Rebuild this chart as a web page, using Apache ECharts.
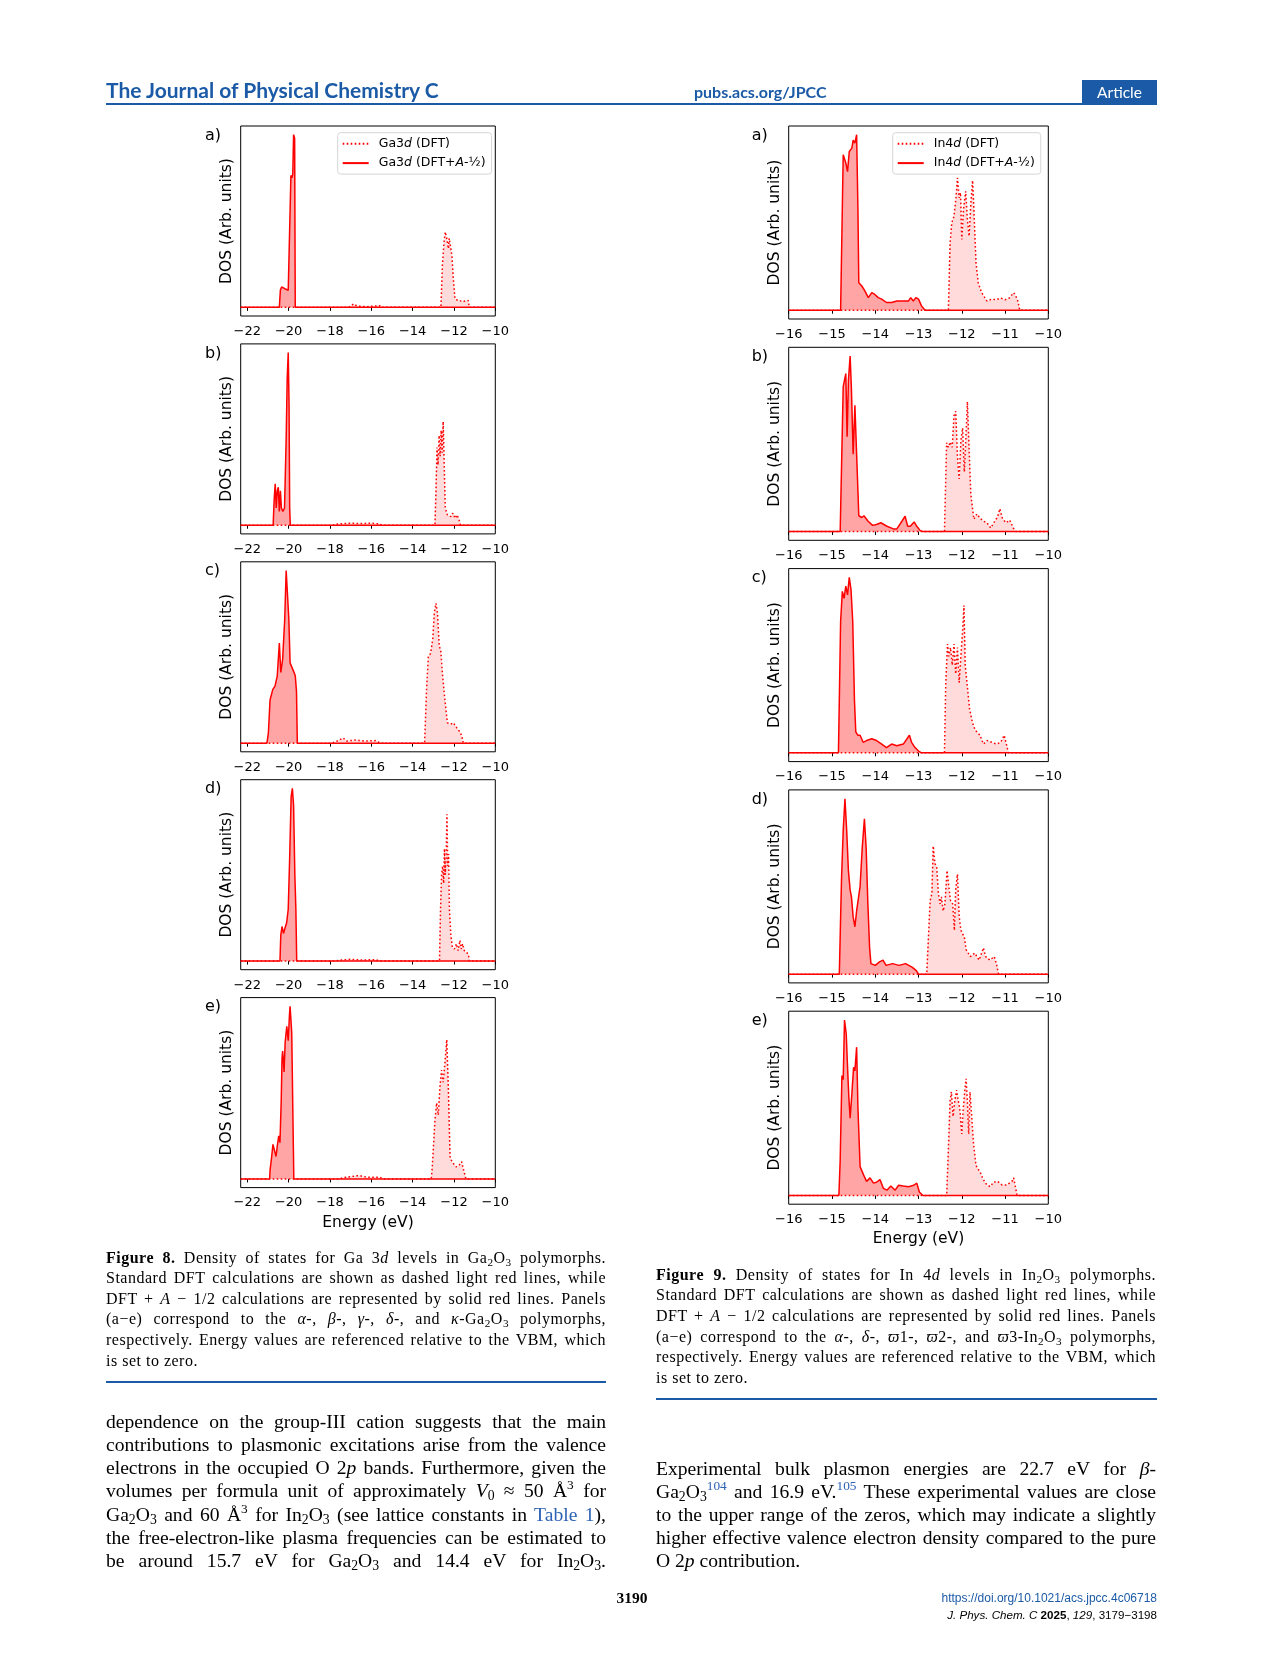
<!DOCTYPE html>
<html><head><meta charset="utf-8">
<script src="https://cdn.jsdelivr.net/npm/echarts@6/dist/echarts.min.js"></script>
<style>
html,body{margin:0;padding:0;background:#fff;}
#page{position:relative;width:1266px;height:1669px;overflow:hidden;background:#fff;}
#chart{position:absolute;left:0;top:0;width:1266px;height:1669px;}
.t{position:absolute;white-space:nowrap;color:#000;}
.cap{font-family:"Liberation Serif",serif;font-size:16px;line-height:20px;height:20px;width:500px;letter-spacing:0.5px;}
.body{font-family:"Liberation Serif",serif;font-size:19.6px;line-height:22px;height:22px;width:500px;}
.j{text-align:justify;text-align-last:justify;}
.sb{font-size:70%;vertical-align:-0.25em;line-height:0;}
.sp{font-size:68%;vertical-align:0.6em;line-height:0;}
.blue{color:#2d62b5;}
.rule{position:absolute;height:2px;background:#1a5aa6;}
</style></head>
<body><div id="page">
<div id="chart"></div>

<div class="t" style="left:106px;top:77px;font-family:Lato,sans-serif;font-weight:bold;font-size:21px;line-height:26px;color:#1a5aa6;">The Journal of Physical Chemistry C</div>
<div class="t" style="left:694px;top:82px;font-family:Lato,sans-serif;font-weight:bold;font-size:16px;line-height:20px;color:#1a5aa6;">pubs.acs.org/JPCC</div>
<div class="t" style="left:1082px;top:80px;width:75px;height:24px;background:#1a5aa6;color:#fff;font-family:Lato,sans-serif;font-size:15.5px;line-height:24px;text-align:center;">Article</div>
<div class="rule" style="left:106px;top:103px;width:1051px;"></div>

<div class="t cap j" style="left:106px;top:1247.5px;"><b>Figure 8.</b> Density of states for Ga 3<i>d</i> levels in Ga<span class="sb">2</span>O<span class="sb">3</span> polymorphs.</div>
<div class="t cap j" style="left:106px;top:1268.1px;">Standard DFT calculations are shown as dashed light red lines, while</div>
<div class="t cap j" style="left:106px;top:1288.7px;">DFT + <i>A</i> − 1/2 calculations are represented by solid red lines. Panels</div>
<div class="t cap j" style="left:106px;top:1309.3px;">(a−e) correspond to the <i>α</i>-, <i>β</i>-, <i>γ</i>-, <i>δ</i>-, and <i>κ</i>-Ga<span class="sb">2</span>O<span class="sb">3</span> polymorphs,</div>
<div class="t cap j" style="left:106px;top:1329.9px;">respectively. Energy values are referenced relative to the VBM, which</div>
<div class="t cap" style="left:106px;top:1350.5px;">is set to zero.</div>
<div class="rule" style="left:106px;top:1381px;width:500px;"></div>

<div class="t cap j" style="left:656px;top:1264.5px;"><b>Figure 9.</b> Density of states for In 4<i>d</i> levels in In<span class="sb">2</span>O<span class="sb">3</span> polymorphs.</div>
<div class="t cap j" style="left:656px;top:1285.2px;">Standard DFT calculations are shown as dashed light red lines, while</div>
<div class="t cap j" style="left:656px;top:1305.9px;">DFT + <i>A</i> − 1/2 calculations are represented by solid red lines. Panels</div>
<div class="t cap j" style="left:656px;top:1326.6px;">(a−e) correspond to the <i>α</i>-, <i>δ</i>-, <i>ϖ</i>1-, <i>ϖ</i>2-, and <i>ϖ</i>3-In<span class="sb">2</span>O<span class="sb">3</span> polymorphs,</div>
<div class="t cap j" style="left:656px;top:1347.3px;">respectively. Energy values are referenced relative to the VBM, which</div>
<div class="t cap" style="left:656px;top:1368px;">is set to zero.</div>
<div class="rule" style="left:656px;top:1398px;width:501px;"></div>

<div class="t body j" style="left:106px;top:1411.3px;">dependence on the group-III cation suggests that the main</div>
<div class="t body j" style="left:106px;top:1434.3px;">contributions to plasmonic excitations arise from the valence</div>
<div class="t body j" style="left:106px;top:1457.4px;">electrons in the occupied O 2<i>p</i> bands. Furthermore, given the</div>
<div class="t body j" style="left:106px;top:1480.4px;">volumes per formula unit of approximately <i>V</i><span class="sb">0</span> ≈ 50 Å<span class="sp">3</span> for</div>
<div class="t body j" style="left:106px;top:1503.5px;">Ga<span class="sb">2</span>O<span class="sb">3</span> and 60 Å<span class="sp">3</span> for In<span class="sb">2</span>O<span class="sb">3</span> (see lattice constants in <span class="blue">Table 1</span>),</div>
<div class="t body j" style="left:106px;top:1526.5px;">the free-electron-like plasma frequencies can be estimated to</div>
<div class="t body j" style="left:106px;top:1549.6px;">be around 15.7 eV for Ga<span class="sb">2</span>O<span class="sb">3</span> and 14.4 eV for In<span class="sb">2</span>O<span class="sb">3</span>.</div>

<div class="t body j" style="left:656px;top:1458.1px;">Experimental bulk plasmon energies are 22.7 eV for <i>β</i>-</div>
<div class="t body j" style="left:656px;top:1481.2px;">Ga<span class="sb">2</span>O<span class="sb">3</span><span class="sp blue">104</span> and 16.9 eV.<span class="sp blue">105</span> These experimental values are close</div>
<div class="t body j" style="left:656px;top:1504.2px;">to the upper range of the zeros, which may indicate a slightly</div>
<div class="t body j" style="left:656px;top:1527.3px;">higher effective valence electron density compared to the pure</div>
<div class="t body" style="left:656px;top:1550.3px;">O 2<i>p</i> contribution.</div>

<div class="t" style="left:597px;top:1588px;width:70px;text-align:center;font-family:'Liberation Serif',serif;font-weight:bold;font-size:15.5px;line-height:20px;">3190</div>
<div class="t" style="left:807px;top:1591px;width:350px;text-align:right;font-family:'Liberation Sans',sans-serif;font-size:12px;line-height:15px;color:#1a5aa6;">https://doi.org/10.1021/acs.jpcc.4c06718</div>
<div class="t" style="left:807px;top:1606.5px;width:350px;text-align:right;font-family:'Liberation Sans',sans-serif;font-size:11.6px;line-height:15px;"><i>J. Phys. Chem. C</i> <b>2025</b>, <i>129</i>, 3179−3198</div>
</div>

<script>
// ---------- tick labels ----------
const gaTicks = [-22, -20, -18, -16, -14, -12, -10];
const inTicks = [-16, -15, -14, -13, -12, -11, -10];
const panelLetters = ['a)', 'b)', 'c)', 'd)', 'e)'];

// ---------- Ga 3d (Figure 8) : [energy eV, DOS normalised] ----------
const ga_a_dft = [[-22.32,0],[-17.1,0],[-16.85,0.02],[-16.7,0.008],[-16.2,0.004],[-15.6,0.01],[-15.5,0],[-12.63,0],[-12.56,0.243],[-12.48,0.38],[-12.42,0.437],[-12.35,0.40],[-12.27,0.34],[-12.23,0.40],[-12.16,0.395],[-12.1,0.30],[-12.03,0.166],[-11.95,0.05],[-11.87,0.04],[-11.74,0.035],[-11.63,0.04],[-11.47,0.035],[-11.31,0.04],[-11.26,0],[-10,0]];
const ga_a_plus = [[-22.32,0],[-20.45,0],[-20.4,0.1],[-20.34,0.118],[-20.26,0.11],[-20.18,0.108],[-20.1,0.1],[-20.02,0.099],[-19.95,0.11],[-19.89,0.764],[-19.84,0.75],[-19.8,0.77],[-19.76,1.0],[-19.71,0.98],[-19.68,0],[-10,0]];

const ga_b_dft = [[-22.32,0],[-17.9,0],[-17.6,0.008],[-17.0,0.012],[-16.5,0.01],[-16.0,0.012],[-15.6,0.008],[-15.5,0],[-12.92,0],[-12.87,0.2],[-12.82,0.45],[-12.77,0.35],[-12.72,0.52],[-12.67,0.4],[-12.62,0.55],[-12.57,0.42],[-12.52,0.6],[-12.47,0.35],[-12.42,0.1],[-12.32,0.06],[-12.15,0.05],[-12.05,0.07],[-11.95,0.04],[-11.85,0.06],[-11.75,0.03],[-11.68,0],[-10,0]];
const ga_b_plus = [[-22.32,0],[-20.75,0],[-20.7,0.15],[-20.65,0.24],[-20.6,0.1],[-20.55,0.2],[-20.5,0.22],[-20.45,0.08],[-20.4,0.2],[-20.35,0.1],[-20.28,0.08],[-20.2,0.1],[-20.12,0.5],[-20.07,0.85],[-20.02,1.0],[-19.98,0.7],[-19.95,0.1],[-19.92,0],[-10,0]];

const ga_c_dft = [[-22.32,0],[-17.9,0],[-17.6,0.015],[-17.36,0.03],[-17.2,0.012],[-16.8,0.018],[-16.3,0.012],[-15.8,0.015],[-15.55,0],[-13.42,0],[-13.32,0.33],[-13.24,0.5],[-13.13,0.52],[-13.03,0.6],[-12.95,0.755],[-12.87,0.81],[-12.8,0.755],[-12.71,0.56],[-12.64,0.54],[-12.55,0.39],[-12.44,0.253],[-12.32,0.118],[-12.16,0.11],[-12.03,0.118],[-11.87,0.09],[-11.68,0.06],[-11.6,0.03],[-11.55,0],[-10,0]];
const ga_c_plus = [[-22.32,0],[-21.05,0],[-20.98,0.06],[-20.9,0.25],[-20.77,0.31],[-20.66,0.33],[-20.55,0.39],[-20.45,0.58],[-20.38,0.41],[-20.29,0.485],[-20.19,0.716],[-20.12,1.0],[-20.06,1.0],[-19.99,0.716],[-19.93,0.465],[-19.84,0.465],[-19.74,0.41],[-19.68,0.39],[-19.62,0.3],[-19.58,0],[-10,0]];

const ga_d_dft = [[-22.32,0],[-17.8,0],[-17.5,0.006],[-17.0,0.01],[-16.5,0.006],[-15.8,0.008],[-15.6,0],[-12.7,0],[-12.65,0.3],[-12.6,0.5],[-12.55,0.55],[-12.5,0.45],[-12.46,0.65],[-12.42,0.5],[-12.38,0.6],[-12.34,0.85],[-12.3,0.55],[-12.26,0.62],[-12.22,0.3],[-12.15,0.15],[-12.08,0.08],[-11.98,0.07],[-11.88,0.1],[-11.8,0.06],[-11.71,0.12],[-11.65,0.07],[-11.58,0.1],[-11.5,0.06],[-11.4,0.05],[-11.3,0.04],[-11.26,0],[-10,0]];
const ga_d_plus = [[-22.32,0],[-20.42,0],[-20.38,0.15],[-20.32,0.2],[-20.25,0.16],[-20.18,0.19],[-20.1,0.22],[-20.02,0.3],[-19.95,0.6],[-19.88,0.95],[-19.82,1.0],[-19.76,0.9],[-19.7,0.5],[-19.65,0.3],[-19.61,0],[-10,0]];

const ga_e_dft = [[-22.32,0],[-17.6,0],[-17.3,0.008],[-16.9,0.015],[-16.6,0.02],[-16.2,0.01],[-15.6,0.01],[-15.4,0],[-13.1,0],[-13.05,0.07],[-12.92,0.34],[-12.84,0.44],[-12.76,0.37],[-12.68,0.535],[-12.6,0.63],[-12.52,0.56],[-12.44,0.67],[-12.35,0.806],[-12.27,0.52],[-12.19,0.13],[-12.1,0.1],[-12.03,0.09],[-11.9,0.07],[-11.75,0.08],[-11.63,0.1],[-11.55,0.06],[-11.47,0.07],[-11.42,0],[-10,0]];
const ga_e_plus = [[-22.32,0],[-20.92,0],[-20.9,0.05],[-20.82,0.13],[-20.76,0.2],[-20.71,0.21],[-20.61,0.13],[-20.55,0.19],[-20.48,0.25],[-20.42,0.21],[-20.36,0.45],[-20.32,0.7],[-20.29,0.74],[-20.22,0.62],[-20.17,0.79],[-20.09,0.883],[-20.02,0.8],[-19.96,0.95],[-19.93,1.0],[-19.85,0.845],[-19.77,0.17],[-19.75,0],[-10,0]];

// ---------- In 4d (Figure 9) ----------
const in_a_dft = [[-16,0],[-12.31,0],[-12.27,0.385],[-12.23,0.498],[-12.18,0.536],[-12.13,0.65],[-12.1,0.754],[-12.06,0.64],[-12.03,0.67],[-12.0,0.403],[-11.96,0.574],[-11.91,0.678],[-11.87,0.517],[-11.83,0.422],[-11.79,0.612],[-11.75,0.74],[-11.72,0.574],[-11.67,0.27],[-11.62,0.157],[-11.54,0.1],[-11.42,0.053],[-11.31,0.063],[-11.2,0.06],[-11.1,0.07],[-11.0,0.06],[-10.9,0.07],[-10.8,0.1],[-10.75,0.08],[-10.7,0.05],[-10.66,0],[-10,0]];
const in_a_plus = [[-16,0],[-14.8,0],[-14.74,0.886],[-14.68,0.839],[-14.64,0.79],[-14.6,0.905],[-14.54,0.924],[-14.51,0.97],[-14.47,0.953],[-14.43,1.0],[-14.4,0.574],[-14.38,0.157],[-14.31,0.138],[-14.24,0.11],[-14.16,0.072],[-14.08,0.1],[-14.01,0.09],[-13.93,0.072],[-13.85,0.063],[-13.74,0.044],[-13.62,0.044],[-13.5,0.053],[-13.35,0.053],[-13.23,0.053],[-13.18,0.072],[-13.12,0.053],[-13.06,0.072],[-13.0,0.063],[-12.93,0.025],[-12.85,0],[-10,0]];

const in_b_dft = [[-16,0],[-12.4,0],[-12.35,0.506],[-12.31,0.48],[-12.27,0.51],[-12.22,0.48],[-12.18,0.66],[-12.14,0.685],[-12.1,0.43],[-12.06,0.30],[-12.02,0.52],[-11.98,0.59],[-11.94,0.34],[-11.91,0.505],[-11.87,0.74],[-11.83,0.47],[-11.79,0.21],[-11.72,0.07],[-11.65,0.10],[-11.59,0.08],[-11.51,0.06],[-11.42,0.05],[-11.33,0.02],[-11.26,0.05],[-11.17,0.085],[-11.12,0.13],[-11.06,0.075],[-10.98,0.05],[-10.89,0.065],[-10.81,0.02],[-10.75,0],[-10,0]];
const in_b_plus = [[-16,0],[-14.81,0],[-14.74,0.826],[-14.68,0.9],[-14.65,0.54],[-14.62,0.86],[-14.58,1.0],[-14.55,0.81],[-14.51,0.44],[-14.47,0.72],[-14.45,0.71],[-14.41,0.3],[-14.38,0.09],[-14.31,0.08],[-14.26,0.09],[-14.22,0.1],[-14.17,0.06],[-14.06,0.035],[-13.97,0.04],[-13.87,0.05],[-13.73,0.03],[-13.58,0.015],[-13.5,0.015],[-13.38,0.06],[-13.31,0.087],[-13.25,0.03],[-13.19,0.03],[-13.1,0.055],[-13.04,0.03],[-12.96,0.005],[-12.9,0],[-10,0]];

const in_c_dft = [[-16,0],[-12.4,0],[-12.37,0.4],[-12.33,0.62],[-12.3,0.55],[-12.26,0.6],[-12.22,0.5],[-12.18,0.62],[-12.14,0.45],[-12.1,0.6],[-12.06,0.4],[-12.02,0.55],[-11.98,0.7],[-11.95,0.84],[-11.92,0.5],[-11.88,0.4],[-11.82,0.25],[-11.75,0.17],[-11.69,0.13],[-11.58,0.1],[-11.5,0.05],[-11.41,0.07],[-11.31,0.06],[-11.2,0.05],[-11.1,0.06],[-11.02,0.1],[-10.97,0.05],[-10.92,0],[-10,0]];
const in_c_plus = [[-16,0],[-14.85,0],[-14.8,0.75],[-14.76,0.92],[-14.72,0.88],[-14.68,0.95],[-14.64,0.9],[-14.6,1.0],[-14.56,0.93],[-14.52,0.75],[-14.48,0.3],[-14.45,0.12],[-14.4,0.1],[-14.35,0.1],[-14.28,0.06],[-14.2,0.07],[-14.08,0.08],[-13.97,0.07],[-13.85,0.05],[-13.74,0.03],[-13.62,0.05],[-13.5,0.04],[-13.35,0.05],[-13.21,0.1],[-13.16,0.06],[-13.08,0.03],[-13.0,0.01],[-12.93,0],[-10,0]];

const in_d_dft = [[-16,0],[-12.81,0],[-12.73,0.42],[-12.69,0.46],[-12.66,0.73],[-12.62,0.63],[-12.58,0.61],[-12.54,0.46],[-12.5,0.40],[-12.47,0.44],[-12.43,0.36],[-12.39,0.40],[-12.34,0.59],[-12.3,0.50],[-12.26,0.42],[-12.21,0.40],[-12.17,0.25],[-12.14,0.48],[-12.1,0.57],[-12.06,0.33],[-12.02,0.25],[-11.98,0.24],[-11.94,0.21],[-11.9,0.14],[-11.8,0.1],[-11.7,0.12],[-11.6,0.08],[-11.5,0.15],[-11.45,0.1],[-11.35,0.08],[-11.25,0.1],[-11.2,0.06],[-11.15,0],[-10,0]];
const in_d_plus = [[-16,0],[-14.83,0],[-14.78,0.535],[-14.74,0.82],[-14.7,1.0],[-14.66,0.82],[-14.62,0.59],[-14.58,0.48],[-14.55,0.44],[-14.51,0.326],[-14.47,0.27],[-14.43,0.36],[-14.35,0.5],[-14.3,0.72],[-14.25,0.885],[-14.21,0.72],[-14.17,0.4],[-14.13,0.15],[-14.1,0.06],[-14.0,0.05],[-13.9,0.07],[-13.82,0.08],[-13.75,0.05],[-13.6,0.06],[-13.45,0.05],[-13.3,0.06],[-13.15,0.04],[-13.05,0.02],[-13.0,0],[-10,0]];

const in_e_dft = [[-16,0],[-12.35,0],[-12.31,0.26],[-12.27,0.54],[-12.24,0.59],[-12.2,0.45],[-12.16,0.54],[-12.12,0.6],[-12.08,0.61],[-12.04,0.48],[-12.0,0.35],[-11.97,0.48],[-11.93,0.6],[-11.9,0.665],[-11.87,0.54],[-11.84,0.35],[-11.81,0.59],[-11.77,0.45],[-11.73,0.30],[-11.67,0.17],[-11.57,0.13],[-11.5,0.09],[-11.42,0.06],[-11.34,0.05],[-11.27,0.075],[-11.17,0.08],[-11.07,0.06],[-10.96,0.06],[-10.84,0.08],[-10.8,0.1],[-10.77,0.06],[-10.72,0],[-10,0]];
const in_e_plus = [[-16,0],[-14.84,0],[-14.81,0.2],[-14.77,0.684],[-14.74,0.66],[-14.71,1.0],[-14.67,0.92],[-14.64,0.73],[-14.61,0.56],[-14.58,0.44],[-14.54,0.58],[-14.5,0.73],[-14.47,0.71],[-14.43,0.845],[-14.4,0.5],[-14.35,0.164],[-14.27,0.117],[-14.2,0.08],[-14.12,0.1],[-14.04,0.07],[-13.97,0.075],[-13.89,0.09],[-13.81,0.04],[-13.73,0.03],[-13.64,0.054],[-13.54,0.03],[-13.46,0.058],[-13.35,0.054],[-13.23,0.05],[-13.11,0.058],[-13.04,0.07],[-12.98,0.02],[-12.9,0],[-10,0]];

const gaPanels = [[ga_a_dft, ga_a_plus],[ga_b_dft, ga_b_plus],[ga_c_dft, ga_c_plus],[ga_d_dft, ga_d_plus],[ga_e_dft, ga_e_plus]];
const inPanels = [[in_a_dft, in_a_plus],[in_b_dft, in_b_plus],[in_c_dft, in_c_plus],[in_d_dft, in_d_plus],[in_e_dft, in_e_plus]];
const gaNames = ['Ga3d (DFT)', 'Ga3d (DFT+A-½)'];
const inNames = ['In4d (DFT)', 'In4d (DFT+A-½)'];

// ---------- layout ----------
const COLS = [
  {left: 240.7, width: 254.6, top0: 126, pitch: 217.9, height: 190, min: -22.32, ticks: gaTicks, panels: gaPanels, names: gaNames, letterX: 205, ylabX: 227},
  {left: 788.7, width: 259.6, top0: 126, pitch: 221.3, height: 193, min: -16, ticks: inTicks, panels: inPanels, names: inNames, letterX: 751.7, ylabX: 775}
];
const FONT = '"DejaVu Sans", sans-serif';
const minus = v => (v < 0 ? '\u2212' + Math.abs(v) : String(v));

const grids = [], xAxes = [], yAxes = [], series = [], graphics = [];
let gi = 0;
COLS.forEach((col, c) => {
  col.panels.forEach((pair, p) => {
    const top = col.top0 + p * col.pitch;
    grids.push({left: col.left, top: top, width: col.width, height: col.height, show: true,
      borderColor: '#000', borderWidth: 1, backgroundColor: 'transparent', containLabel: false});
    xAxes.push({type: 'value', gridIndex: gi, min: col.min, max: -10,
      axisLine: {show: false},
      axisTick: {show: true, inside: false, length: 3.5, customValues: col.ticks, lineStyle: {color: '#000', width: 1}},
      axisLabel: {show: true, customValues: col.ticks, formatter: minus, fontSize: 13, fontFamily: FONT, color: '#000', margin: 9},
      splitLine: {show: false}});
    yAxes.push({type: 'value', gridIndex: gi, min: -0.05, max: 1.05,
      axisLine: {show: false}, axisTick: {show: false}, axisLabel: {show: false}, splitLine: {show: false}});
    series.push({type: 'line', name: col.names[0], xAxisIndex: gi, yAxisIndex: gi, data: pair[0],
      showSymbol: false, symbol: 'none', z: 2, silent: true,
      lineStyle: {color: '#ff0000', width: 1.5, type: [1.6, 2.4], cap: 'butt'},
      itemStyle: {color: '#ff0000'},
      areaStyle: {color: 'rgba(255,0,0,0.2)'}});
    series.push({type: 'line', name: col.names[1], xAxisIndex: gi, yAxisIndex: gi, data: pair[1],
      showSymbol: false, symbol: 'none', z: 3, silent: true,
      lineStyle: {color: '#ff0000', width: 1.5, type: 'solid'},
      itemStyle: {color: '#ff0000'},
      areaStyle: {color: 'rgba(255,0,0,0.5)'}});
    graphics.push({type: 'text', x: col.letterX, y: top + 9.5,
      style: {text: panelLetters[p], fontSize: 16, fontFamily: FONT, fill: '#000', align: 'left', verticalAlign: 'middle'}});
    graphics.push({type: 'text', x: col.ylabX, y: top + col.height / 2, rotation: Math.PI / 2,
      style: {text: 'DOS (Arb. units)', fontSize: 15.5, fontFamily: FONT, fill: '#000', align: 'center', verticalAlign: 'middle'}});
    if (p === 4) {
      graphics.push({type: 'text', x: col.left + col.width / 2, y: top + col.height + 35,
        style: {text: 'Energy (eV)', fontSize: 15.5, fontFamily: FONT, fill: '#000', align: 'center', verticalAlign: 'middle'}});
    }
    gi++;
  });
});

const legendFmt = function (name) {
  const el = name.slice(0, 3);
  const rest = name.slice(4);
  if (rest.indexOf('A') >= 0) return '{n|' + el + '}{i|d}{n| (DFT+}{i|A}{n|-½)}';
  return '{n|' + el + '}{i|d}{n| (DFT)}';
};
const legendText = {fontSize: 12.5, fontFamily: FONT, color: '#000', lineHeight: 14, padding: [0, 0, 0, 5],
  rich: {n: {fontSize: 12.5, fontFamily: FONT, color: '#000', lineHeight: 14},
         i: {fontSize: 12.5, fontFamily: FONT, color: '#000', fontStyle: 'italic', lineHeight: 14}}};
const mkLegend = (names, left) => ({show: true, orient: 'vertical', left: left, top: 132.7, data: names,
  itemWidth: 26, itemHeight: 14, itemGap: 5.4, padding: [4, 6, 4, 4], selectedMode: false,
  itemStyle: {opacity: 0, color: 'rgba(0,0,0,0)', borderWidth: 0},
  borderColor: '#d6d6d6', borderWidth: 1, borderRadius: 3, backgroundColor: 'rgba(255,255,255,0.8)',
  textStyle: legendText, formatter: legendFmt});

const chart = echarts.init(document.getElementById('chart'), null, {renderer: 'canvas'});
chart.setOption({
  animation: false,
  backgroundColor: 'transparent',
  grid: grids, xAxis: xAxes, yAxis: yAxes, series: series,
  legend: [mkLegend(gaNames, 337.7), mkLegend(inNames, 892.7)],
  graphic: graphics
});
</script>
</body></html>
